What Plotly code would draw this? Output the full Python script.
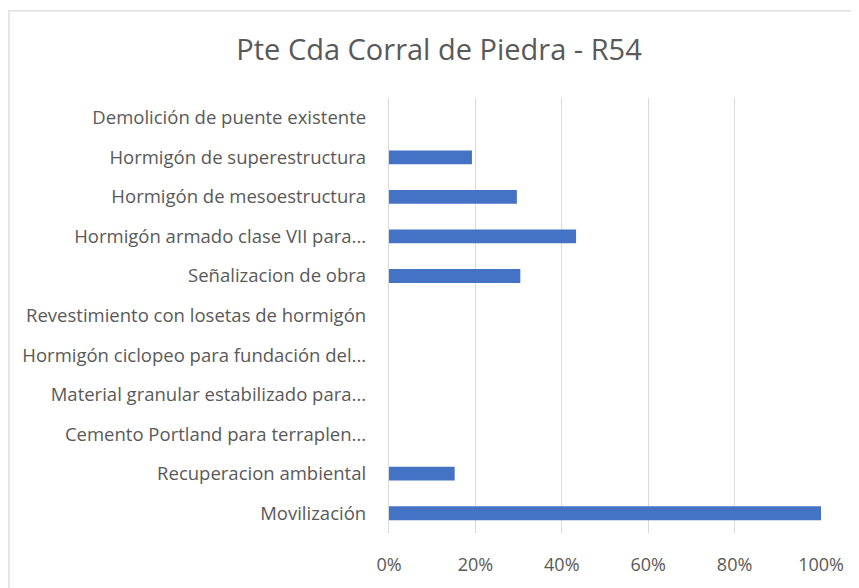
import plotly.graph_objects as go

categories = [
    "Movilización",
    "Recuperacion ambiental",
    "Cemento Portland para terraplen...",
    "Material granular estabilizado para...",
    "Hormigón ciclopeo para fundación del...",
    "Revestimiento con losetas de hormigón",
    "Señalizacion de obra",
    "Hormigón armado clase VII para...",
    "Hormigón de mesoestructura",
    "Hormigón de superestructura",
    "Demolición de puente existente",
]
values = [1.00, 0.152, 0, 0, 0, 0, 0.304, 0.433, 0.296, 0.192, 0]
tick_vals = [0, 0.2, 0.4, 0.6, 0.8, 1.0]
tick_text = ["0%", "20%", "40%", "60%", "80%", "100%"]
title = "Pte Cda Corral de Piedra - R54"

fig = go.Figure(go.Bar(
    y=categories, x=values, orientation="h",
    marker=dict(color="#4472C4", line=dict(width=0)),
    width=0.35,
))

# page body has an 8px default margin; figure is sized to compensate
fig.update_layout(
    width=851, height=580,
    margin=dict(l=381, r=38, t=90, b=51),
    paper_bgcolor="white", plot_bgcolor="white",
    font=dict(family="Open Sans", color="#595959", size=18),
    title=dict(text=title, x=0.5065, xanchor="center", y=0.9276, yanchor="middle",
               font=dict(size=29, color="#595959", family="Open Sans")),
    showlegend=False,
)
fig.update_xaxes(range=[0, 1.0], tickvals=tick_vals, ticktext=tick_text,
                 showgrid=True, gridcolor="#d9d9d9", gridwidth=1.3,
                 zeroline=False, showline=False, ticks="", ticklabelstandoff=19,
                 tickfont=dict(size=18, color="#595959"))
fig.update_yaxes(categoryorder="array", categoryarray=categories,
                 showgrid=False, showline=True, linecolor="#d9d9d9", linewidth=1.3,
                 ticks="", ticklabelstandoff=18, tickfont=dict(size=18.5, color="#595959"))
fig.add_shape(type="rect", xref="paper", yref="paper",
              x0=-0.8796, x1=1.0856, y0=-0.2, y1=1.2005,
              line=dict(color="#d9d9d9", width=1.3), fillcolor="rgba(0,0,0,0)", layer="below")

fig.write_html("out.html")
